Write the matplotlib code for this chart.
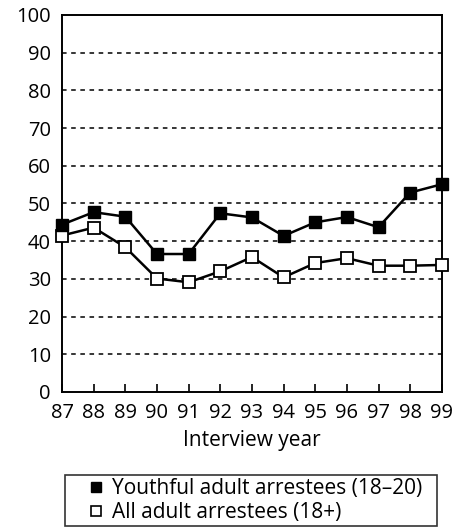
import matplotlib.pyplot as plt
from matplotlib.lines import Line2D

plt.rcParams['font.family'] = ['Open Sans', 'DejaVu Sans']

years = [87, 88, 89, 90, 91, 92, 93, 94, 95, 96, 97, 98, 99]
youthful = [44.4, 47.7, 46.5, 36.6, 36.6, 47.4, 46.3, 41.4, 45.0, 46.4, 43.7, 52.9, 55.1]
all_adult = [41.5, 43.6, 38.4, 30.1, 29.1, 32.0, 35.8, 30.4, 34.2, 35.5, 33.5, 33.5, 33.7]
labels = ['Youthful adult arrestees (18\u201320)', 'All adult arrestees (18+)']

fig = plt.figure(figsize=(4.7, 5.3), dpi=100)
ax = fig.add_axes([0.132, 0.2604, 0.808, 0.7113])

for y in range(10, 100, 10):
    ax.axhline(y, color='black', lw=1.1, ls=(0, (3, 3)), zorder=1)

ax.plot(years, all_adult, color='black', lw=1.8, marker='s', ms=9,
        mfc='white', mec='black', mew=1.3, zorder=3, clip_on=False)
ax.plot(years, youthful, color='black', lw=1.8, marker='s', ms=9,
        mfc='black', mec='black', zorder=4, clip_on=False)

ax.set_xlim(87, 99)
ax.set_ylim(0, 100)
ax.set_xticks(years)
ax.set_xticklabels([str(v) for v in years])
ax.set_yticks(range(0, 101, 10))
ax.tick_params(axis='x', direction='in', length=6, width=1.2, labelsize=14.5, pad=8)
ax.tick_params(axis='y', length=0, labelsize=14.5, pad=8)
for s in ax.spines.values():
    s.set_linewidth(1.4)
ax.set_xlabel('Interview year', fontsize=15, labelpad=5)

handles = [
    Line2D([], [], ls='none', marker='s', ms=6.5, mfc='black', mec='black'),
    Line2D([], [], ls='none', marker='s', ms=6.5, mfc='white', mec='black', mew=1.2),
]
top = 1 - 475 / 530
leg = fig.legend(handles, labels, loc='upper left',
                 bbox_to_anchor=(65 / 470, top - 0.1, 372 / 470, 0.1),
                 mode='expand', frameon=True, fancybox=False, fontsize=15,
                 handlelength=2.7, handletextpad=-0.6, borderpad=0.15,
                 labelspacing=0.15, borderaxespad=0)
leg.get_frame().set_edgecolor('black')
leg.get_frame().set_linewidth(1.2)

fig.savefig('out.png', dpi=100)
